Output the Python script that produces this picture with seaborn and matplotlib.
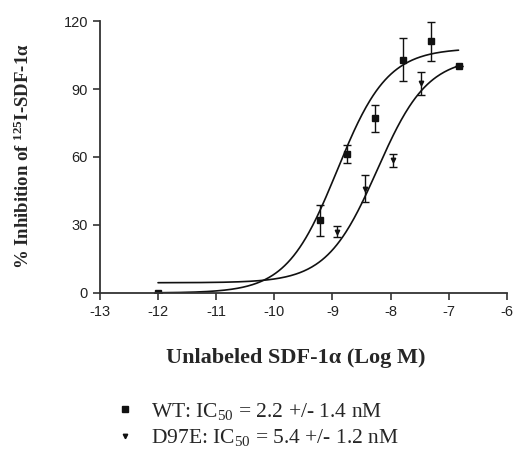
import numpy as np
import pandas as pd
import matplotlib
matplotlib.use("Agg")
import matplotlib.pyplot as plt
import seaborn as sns
from matplotlib.lines import Line2D

# measured points (log M, % inhibition, SEM)
wt_x = [-12, -9.22, -8.75, -8.27, -7.79, -7.31, -6.83]
wt_y = [0, 32, 61.5, 77, 103, 111, 100]
wt_err = [0, 7, 4, 6, 9.5, 8.5, 0]

d97e_x = [-12, -8.92, -8.44, -7.96, -7.48]
d97e_y = [0, 27, 46, 58.5, 92.5]
d97e_err = [0, 2.5, 6, 3, 5]

# fitted sigmoid parameters: bottom, top, logIC50, hill slope
wt_fit = [0, 108, -8.92, 1.0]
d97e_fit = [4.5, 104, -8.23, 1.0]

x_ticks = [-13, -12, -11, -10, -9, -8, -7, -6]
y_ticks = [0, 30, 60, 90, 120]

sns.set_style("ticks")
plt.rcParams['font.family'] = ['Liberation Sans', 'DejaVu Sans']
plt.rcParams['axes.unicode_minus'] = False
plt.rcParams['mathtext.fontset'] = 'custom'
plt.rcParams['mathtext.rm'] = 'Liberation Serif'
plt.rcParams['mathtext.it'] = 'Liberation Serif:italic'
plt.rcParams['mathtext.bf'] = 'Liberation Serif:bold'

fig = plt.figure(figsize=(5.15, 4.57), dpi=100)
ax = fig.add_axes([0.194, 0.359, 0.79, 0.595])


def sigmoid(x, p):
    bottom, top, logic, h = p
    return bottom + (top - bottom) / (1 + 10 ** ((logic - x) * h))


xs = np.linspace(-12, -6.83, 300)
curves = pd.DataFrame({
    'x': np.concatenate([xs, xs]),
    'y': np.concatenate([sigmoid(xs, wt_fit), sigmoid(xs, d97e_fit)]),
    'g': ['WT'] * len(xs) + ['D97E'] * len(xs),
})
sns.lineplot(data=curves, x='x', y='y', units='g', estimator=None,
             color='#111111', lw=1.2, ax=ax, legend=False)

ax.errorbar(wt_x, wt_y, yerr=wt_err, fmt='s', ms=3.8, color='#111111',
            ecolor='#111111', elinewidth=1.0, capsize=2.8, capthick=1.0)
ax.errorbar(d97e_x, d97e_y, yerr=d97e_err, fmt='v', ms=3.2, color='#111111',
            ecolor='#111111', elinewidth=1.0, capsize=2.8, capthick=1.0)

ax.set_xlim(-13, -6)
ax.set_ylim(0, 120)
ax.set_xticks(x_ticks)
ax.set_yticks(y_ticks)
ax.tick_params(labelsize=10.5, length=5, width=1.2, color='#333333',
               labelcolor='#222222')
for s in ['left', 'bottom']:
    ax.spines[s].set_linewidth(1.3)
    ax.spines[s].set_color('#333333')
sns.despine(ax=ax)
ax.set_xlabel('')
ax.set_ylabel('')

fig.text(0.045, 0.659, r'% Inhibition of $^{\mathbf{125}}$I-SDF-1α',
         rotation=90, ha='center', va='center', fontsize=13.5,
         fontweight='bold', family='Liberation Serif')
fig.text(0.575, 0.216, 'Unlabeled SDF-1α (Log M)', ha='center', va='center',
         fontsize=16, fontweight='bold', family='Liberation Serif')

handles = [Line2D([], [], ls='none', marker='s', ms=3.8, color='#111111'),
           Line2D([], [], ls='none', marker='v', ms=3.2, color='#111111')]
labels = [r'WT: IC$_{50}$ = 2.2 +/- 1.4 nM',
          r'D97E: IC$_{50}$ = 5.4 +/- 1.2 nM']
fig.legend(handles, labels, loc='upper left', bbox_to_anchor=(0.212, 0.142),
           frameon=False, prop={'family': 'Liberation Serif', 'size': 15.5},
           handlelength=0.7, handletextpad=0.85, labelspacing=0.25,
           borderaxespad=0)

fig.savefig('out.png', dpi=100)
